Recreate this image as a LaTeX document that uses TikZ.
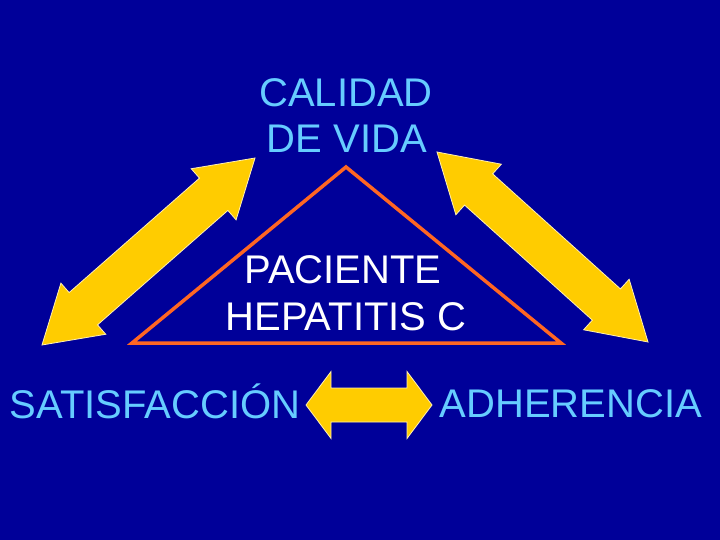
\documentclass[tikz,border=0pt]{standalone}
\usepackage{fontspec}
\setmainfont{Liberation Sans}
\usetikzlibrary{calc}
\definecolor{bg}{RGB}{0,0,153}
\definecolor{txtblue}{RGB}{102,204,255}
\definecolor{arrowyellow}{RGB}{255,204,0}
\definecolor{triorange}{RGB}{255,102,34}
\newcommand{\dblarrow}[5]{%
  \path ($(#1)!#3!(#2)$) coordinate (dA) ($(#2)!#3!(#1)$) coordinate (dB);
  \path ($(dA)!#4!90:(#2)$) coordinate (dA1) ($(dA)!#5!90:(#2)$) coordinate (dA2)
        ($(dA)!#4!-90:(#2)$) coordinate (dA3) ($(dA)!#5!-90:(#2)$) coordinate (dA4)
        ($(dB)!#4!90:(#1)$) coordinate (dB1) ($(dB)!#5!90:(#1)$) coordinate (dB2)
        ($(dB)!#4!-90:(#1)$) coordinate (dB3) ($(dB)!#5!-90:(#1)$) coordinate (dB4);
  \draw[arrowshape] (#1) -- (dA1) -- (dA2) -- (dB4) -- (dB3) -- (#2) -- (dB1) -- (dB2) -- (dA4) -- (dA3) -- cycle;
}
\tikzset{
  arrowshape/.style={fill=arrowyellow, draw=white!70!arrowyellow, line width=0.8pt, line join=miter},
  label/.style={font=\fontsize{40}{46}\selectfont, text=txtblue, inner sep=0pt, anchor=base},
  inner/.style={font=\fontsize{40}{46}\selectfont, text=white, inner sep=0pt, anchor=base},
  tri/.style={draw=triorange, line width=3.5pt, line join=miter}
}
\begin{document}
\begin{tikzpicture}[x=1pt,y=-1pt]
\fill[bg] (0,0) rectangle (720,540);
\useasboundingbox (0,0) rectangle (720,540);
% triangle
\coordinate (tapex) at (346,167);
\coordinate (tleft) at (132,343);
\coordinate (tright) at (561,343);
\draw[tri] (tapex) -- (tright) -- (tleft) -- cycle;
% texts
\node[label] (cal1) at (346,107) {CALIDAD};
\node[label] (cal2) at (347,153) {DE VIDA};
\node[inner] (pac1) at (343,283) {PACIENTE};
\node[inner] (pac2) at (346,330) {HEPATITIS C};
\node[label] (sat) at (155,418) {SATISFACCIÓN};
\node[label] (adh) at (571,417) {ADHERENCIA};
% arrows
\coordinate (la) at (42,345);
\coordinate (lb) at (255,158);
\coordinate (ra) at (437,152);
\coordinate (rb) at (648,342);
\coordinate (ha) at (306,405);
\coordinate (hb) at (432,405);
\dblarrow{la}{lb}{55pt}{34pt}{21.5pt}
\dblarrow{ra}{rb}{56pt}{34pt}{21pt}
\dblarrow{ha}{hb}{25pt}{33.5pt}{17pt}
\end{tikzpicture}
\end{document}
